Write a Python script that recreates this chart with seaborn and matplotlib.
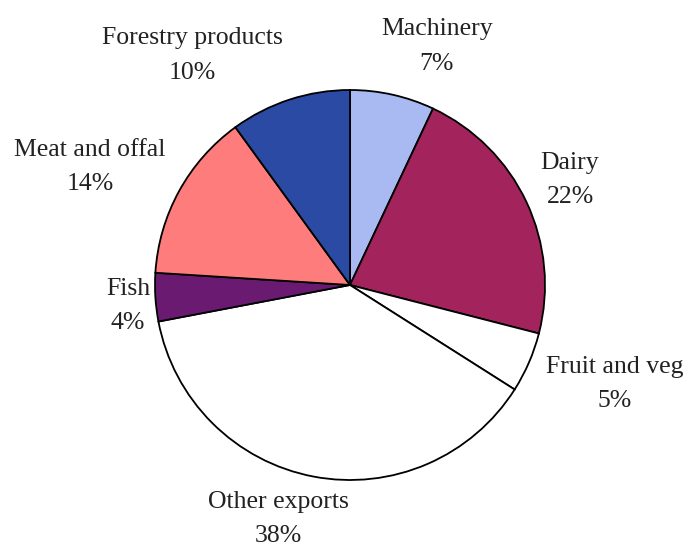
import matplotlib
matplotlib.use("Agg")
import matplotlib.pyplot as plt
import seaborn as sns
import numpy as np

categories = ["Machinery", "Dairy", "Fruit and veg", "Other exports", "Fish",
              "Meat and offal", "Forestry products"]
shares = [7, 22, 5, 38, 4, 14, 10]
pct_labels = ["7%", "22%", "5%", "38%", "4%", "14%", "10%"]
colors = ["#A9B9F2", "#A3235C", "#FFFFFF", "#FFFFFF", "#6B1A72", "#FF7C7C", "#2B4AA3"]

# label placement (radius factor, angle in degrees) relative to pie centre
label_pos = [(1.30, 70.0), (1.25, 25.5), (1.45, -20.5), (1.255, -107.0),
             (1.143, 185.4), (1.464, 155.6), (1.43, 124.5)]

sns.set_theme(style="white")
plt.rcParams["font.family"] = ["Liberation Serif", "DejaVu Serif"]

fig = plt.figure(figsize=(6.88, 5.49), dpi=100)
ax = fig.add_axes([0, 0, 1, 1])
palette = sns.color_palette(colors)
ax.pie(shares, colors=palette, startangle=90, counterclock=False,
       radius=1.0, wedgeprops=dict(edgecolor="black", linewidth=1.3))

for cat, pct, (r, a) in zip(categories, pct_labels, label_pos):
    x = r * np.cos(np.radians(a))
    y = r * np.sin(np.radians(a))
    ax.text(x, y, f"{cat}\n{pct}", ha="center", va="center", fontsize=18.5,
            color="#222222", linespacing=1.75)

ax.set_xlim(-350 / 195, 338 / 195)
ax.set_ylim(-264 / 195, 285 / 195)
ax.set_aspect("equal")
ax.axis("off")
fig.savefig("out.png", dpi=100, facecolor="white")
